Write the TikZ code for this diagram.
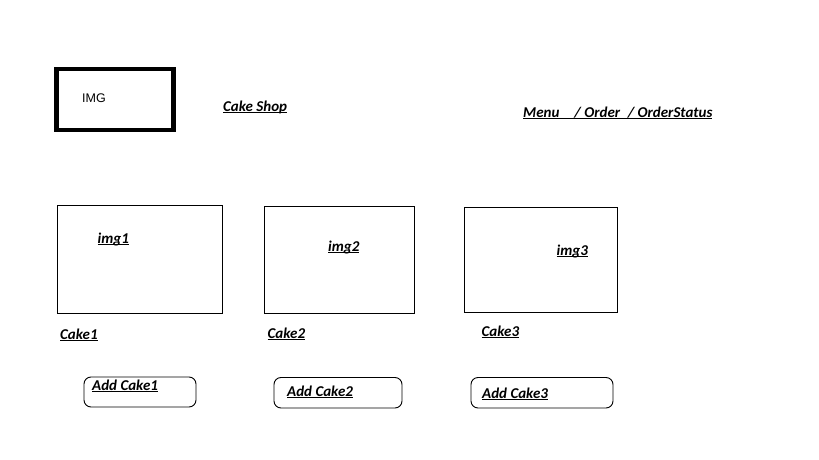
\documentclass[tikz,border=0pt]{standalone}
\usepackage{fontspec}
\setmainfont{Carlito}
\newfontfamily\arialfont{Liberation Sans}
\newcommand{\ulbl}[1]{\setbox0\hbox{#1}\rlap{\rule[-1.5pt]{\wd0}{0.9pt}}\box0}

\begin{document}
\begin{tikzpicture}[
            x=1pt, y=-1pt,
            lbl/.style={font=\bfseries\itshape\fontsize{15}{17}\selectfont, inner sep=0pt, anchor=base west},
            frame/.style={draw, line width=0.9pt},
            btn/.style={draw, line width=0.9pt, rounded corners=7pt}
            ]
        \useasboundingbox (0,0) rectangle (819,460);

        % header
        \draw[line width=4.6pt] (56.5,69) rectangle (173.5,130);
        \node[inner sep=0pt, anchor=base west, font=\arialfont\fontsize{12.5}{14}\selectfont] (logo) at (82,102.5) {IMG};
        \node[lbl] (shop) at (223,111.5) {\ulbl{Cake Shop}};
        \node[lbl] (menu) at (523,117.5) {\ulbl{Menu\hspace{15pt}/ Order\hspace{7.5pt}/ OrderStatus}};

        % image frames
        \draw[frame] (57.5,205.5) rectangle (222,313);
        \draw[frame] (264,206.5) rectangle (414.5,313);
        \draw[frame] (464.5,207.5) rectangle (617.5,312);
        \node[lbl] (img1) at (97.5,243.5) {\ulbl{img1}};
        \node[lbl] (img2) at (328,251) {\ulbl{img2}};
        \node[lbl] (img3) at (556.5,255.5) {\ulbl{img3}};

        % names
        \node[lbl] (cake1) at (60,339) {\ulbl{Cake1}};
        \node[lbl] (cake2) at (267.5,338) {\ulbl{Cake2}};
        \node[lbl] (cake3) at (481.5,336) {\ulbl{Cake3}};

        % buttons
        \draw[btn] (84,377) rectangle (196,407);
        \draw[btn] (274,377.5) rectangle (402,408);
        \draw[btn] (471,377.5) rectangle (613,408);
        \node[lbl] (add1) at (92,390) {\ulbl{Add Cake1}};
        \node[lbl] (add2) at (287,396.5) {\ulbl{Add Cake2}};
        \node[lbl] (add3) at (482,398.5) {\ulbl{Add Cake3}};
    \end{tikzpicture}
\end{document}
